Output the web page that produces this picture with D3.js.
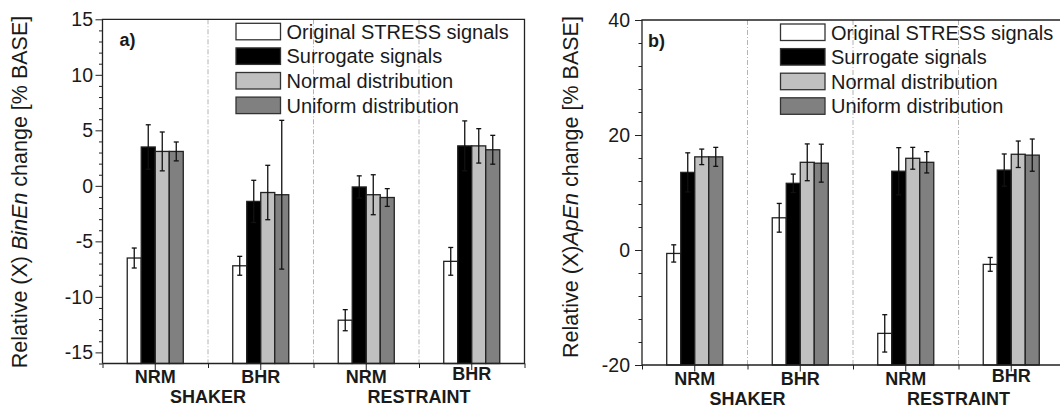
<!DOCTYPE html>
<html>
<head>
<meta charset="utf-8">
<script src="https://cdn.jsdelivr.net/npm/d3@7"></script>
<style>
  body { margin: 0; background: #fff; }
  svg text { font-family: "Liberation Sans", Arial, sans-serif; fill: #1a1a1a; }
  .tick line { stroke: #222; }
  .domain { display: none; }
</style>
</head>
<body>
<svg id="chart" width="1060" height="409"></svg>
<script>
// groups along the x axis and the condition under each pair
const groupLabels = ["NRM", "BHR", "NRM", "BHR"];
const conditionLabels = ["SHAKER", "RESTRAINT"];
const seriesNames = ["Original STRESS signals", "Surrogate signals", "Normal distribution", "Uniform distribution"];

// panel a) BinEn, one row per series, one column per group
const binEnMean = [
	[-6.5, -7.2, -12.1, -6.8],
	[3.5, -1.4, -0.1, 3.6],
	[3.1, -0.6, -0.8, 3.6],
	[3.1, -0.8, -1.05, 3.25]
];
const binEnErr = [
	[0.9, 0.85, 0.95, 1.25],
	[2.0, 1.9, 1.0, 2.25],
	[1.75, 2.45, 1.8, 1.55],
	[0.85, 6.7, 0.8, 1.3]
];
const binEnTicks = [-15, -10, -5, 0, 5, 10, 15];

// panel b) ApEn
const apEnMean = [
	[-0.6, 5.6, -14.5, -2.5],
	[13.5, 11.6, 13.7, 13.9],
	[16.2, 15.25, 15.95, 16.65],
	[16.2, 15.1, 15.25, 16.5]
];
const apEnErr = [
	[1.5, 2.5, 3.25, 1.2],
	[3.4, 1.6, 4.1, 2.8],
	[1.35, 3.2, 1.9, 2.3],
	[1.65, 3.3, 1.85, 2.8]
];
const apEnTicks = [-20, 0, 20, 40];

const seriesFill = ["#ffffff", "#000000", "#c0c0c0", "#808080"];

const svg = d3.select("#chart");

function drawPanel(cfg) {
	const width = 422, height = cfg.height;

	const g = svg.append("g")
		.attr("transform", "translate(" + cfg.left + "," + cfg.top + ")");

	const x = d3.scaleBand().domain(d3.range(groupLabels.length)).range([0, width]);
	const inner = d3.scaleBand().domain(d3.range(seriesNames.length))
		.range([x.bandwidth() * 0.2345, x.bandwidth() * 0.7655]);
	const y = d3.scaleLinear().domain(cfg.domain).range([height, 0]);

	// dash-dot separators between groups
	g.selectAll("line.sep")
		.data(d3.range(1, groupLabels.length))
		.enter().append("line")
		.attr("class", "sep")
		.attr("x1", d => x(d)).attr("x2", d => x(d))
		.attr("y1", 0).attr("y2", height)
		.attr("stroke", "#b4b4b4")
		.attr("stroke-width", 1)
		.attr("stroke-dasharray", "5,2,1,2");

	// bars
	const cells = [];
	cfg.mean.forEach((row, s) => row.forEach((v, k) => cells.push({ s: s, k: k, v: v, e: cfg.err[s][k] })));

	g.selectAll("rect.bar")
		.data(cells)
		.enter().append("rect")
		.attr("class", "bar")
		.attr("x", d => x(d.k) + inner(d.s))
		.attr("width", inner.bandwidth())
		.attr("y", d => y(d.v))
		.attr("height", d => height - y(d.v))
		.attr("fill", d => seriesFill[d.s])
		.attr("stroke", "#222")
		.attr("stroke-width", 1.3);

	// error bars
	const eb = g.selectAll("g.err")
		.data(cells)
		.enter().append("g")
		.attr("class", "err")
		.attr("transform", d => "translate(" + (x(d.k) + inner(d.s) + inner.bandwidth() / 2) + ",0)")
		.attr("stroke", "#111")
		.attr("stroke-width", 1.3);
	eb.append("line")
		.attr("y1", d => y(d.v + d.e)).attr("y2", d => y(d.v - d.e));
	eb.append("line")
		.attr("x1", -2.5).attr("x2", 2.5)
		.attr("y1", d => y(d.v + d.e)).attr("y2", d => y(d.v + d.e));
	eb.append("line")
		.attr("x1", -2.5).attr("x2", 2.5)
		.attr("y1", d => y(d.v - d.e)).attr("y2", d => y(d.v - d.e));

	// y axis, minor then major ticks
	g.append("g")
		.call(d3.axisLeft(y).tickValues(cfg.minor.filter(v => cfg.ticks.indexOf(v) < 0))
			.tickSize(3.5).tickFormat(""));
	g.append("g")
		.call(d3.axisLeft(y).tickValues(cfg.ticks).tickSize(7).tickPadding(cfg.pad)
			.tickFormat(d => String(d)))
		.selectAll("text")
		.style("font-size", "19.5px");

	// x axis: group ticks with labels and boundary ticks
	const xb = d3.scaleLinear().domain([0, groupLabels.length]).range([0, width]);
	g.append("g")
		.attr("transform", "translate(0," + height + ")")
		.call(d3.axisBottom(xb).tickValues(d3.range(groupLabels.length + 1)).tickSize(4.5).tickFormat(""));
	g.append("g")
		.attr("transform", "translate(0," + height + ")")
		.call(d3.axisBottom(x).tickSize(6.5).tickPadding(0.5).tickFormat(i => groupLabels[i]))
		.selectAll("text")
		.style("font-size", "18px")
		.style("font-weight", "bold")
		.attr("dy", (d, i) => i === 3 ? "0.55em" : "0.71em");

	g.selectAll("text.cond")
		.data(conditionLabels)
		.enter().append("text")
		.attr("class", "cond")
		.attr("x", (d, i) => x(i * 2 + 1))
		.attr("y", height + 39.5)
		.attr("text-anchor", "middle")
		.style("font-size", "18px")
		.style("font-weight", "bold")
		.text(d => d);

	// frame
	g.append("path")
		.attr("d", "M0," + height + "V0H" + width + "V" + height + "H0")
		.attr("fill", "none")
		.attr("stroke", "#222")
		.attr("stroke-width", 1.3);

	// panel letter
	g.append("text")
		.attr("x", cfg.letterX).attr("y", 27)
		.style("font-size", "18px")
		.style("font-weight", "bold")
		.text(cfg.letter);

	// legend
	const leg = g.append("g")
		.attr("transform", "translate(" + cfg.legX + ",4)");
	const li = leg.selectAll("g")
		.data(seriesNames)
		.enter().append("g")
		.attr("transform", (d, i) => "translate(0," + (i * 24.6) + ")");
	li.append("rect")
		.attr("width", 44.5).attr("height", 16.5)
		.attr("fill", (d, i) => seriesFill[i])
		.attr("stroke", "#333")
		.attr("stroke-width", 1.3);
	li.append("text")
		.attr("x", 50.5).attr("y", 15.5)
		.style("font-size", "20px")
		.text(d => d);

	// y axis title
	const title = svg.append("text")
		.attr("transform", "translate(" + cfg.titleX + "," + cfg.titleY + ") rotate(-90)")
		.attr("text-anchor", "middle")
		.style("font-size", "21.5px");
	title.append("tspan").text(cfg.titlePre);
	title.append("tspan").style("font-style", "italic").text(cfg.titleIt);
	title.append("tspan").text(" change [% BASE]");
}

drawPanel({
	left: 102.5, top: 19.3, height: 344.2,
	domain: [-16, 15], ticks: binEnTicks, minor: d3.range(-16, 16, 1), pad: 2.5,
	mean: binEnMean, err: binEnErr,
	letter: "a)", letterX: 17, legX: 133.5,
	titleX: 27, titleY: 192, titlePre: "Relative (X) ", titleIt: "BinEn"
});

drawPanel({
	left: 642, top: 20, height: 345,
	domain: [-20, 40], ticks: apEnTicks, minor: d3.range(-20, 41, 4), pad: 5,
	mean: apEnMean, err: apEnErr,
	letter: "b)", letterX: 6, legX: 138.5,
	titleX: 578, titleY: 187, titlePre: "Relative (X)", titleIt: "ApEn"
});
</script>
</body>
</html>
